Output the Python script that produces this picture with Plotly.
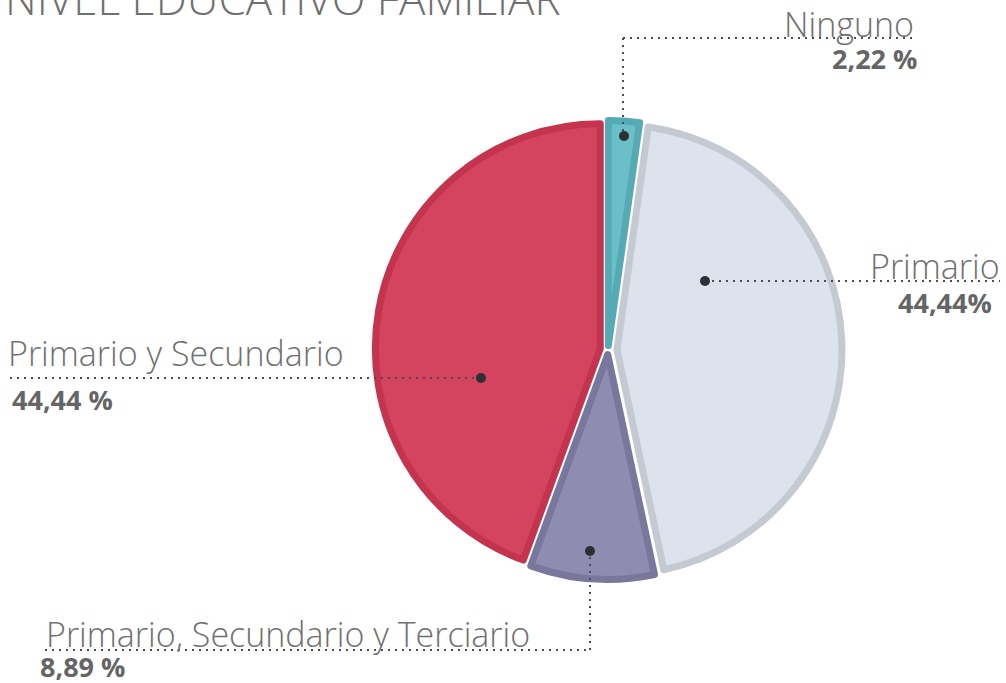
import plotly.graph_objects as go

W, H = 1006, 683

# ---- data ----
categories = ["Ninguno", "Primario", "Primario, Secundario y Terciario", "Primario y Secundario"]
values = [2.22, 44.44, 8.89, 44.44]
value_labels = ["2,22 %", "44,44%", "8,89 %", "44,44 %"]
title_text = "NIVEL EDUCATIVO FAMILIAR"

# ---- styles ----
fill_colors = ["#6bbfc8", "#dce3ec", "#8e8cb0", "#d5445f"]
line_colors = ["#55aab4", "#c5cad2", "#7a779d", "#c4344f"]
pulls = [0.02, 0.04, 0.02, 0.035]

fig = go.Figure()

fig.add_trace(go.Pie(
    labels=categories,
    values=values,
    sort=False,
    direction="clockwise",
    rotation=0,
    pull=pulls,
    marker=dict(colors=fill_colors, line=dict(color=line_colors, width=7)),
    textinfo="none",
    hoverinfo="label+percent",
    showlegend=False,
    domain=dict(x=[0.3718, 0.837], y=[0.145, 0.830]),
))

# invisible overlay axes in pixel units for callouts
fig.add_trace(go.Scatter(x=[0, W], y=[0, H], mode="markers",
                         marker=dict(opacity=0), hoverinfo="skip", showlegend=False))

LINE_C = "#4a4d52"
DOT_C = "#2c2f34"
TXT_C = "#707070"
VAL_C = "#656565"

shapes = []
def dline(x0, y0, x1, y1):
    shapes.append(dict(type="line", xref="x", yref="y", x0=x0, y0=y0, x1=x1, y1=y1,
                       line=dict(color=LINE_C, width=2, dash="2px,5px"), layer="above"))
def dot(x, y, r=5):
    shapes.append(dict(type="circle", xref="x", yref="y", x0=x - r, y0=y - r, x1=x + r, y1=y + r,
                       fillcolor=DOT_C, line=dict(width=0), layer="above"))

# callout geometry (pixels)
dline(623, 38, 915, 38); dline(623, 38, 623, 134); dot(624, 136)
dline(705, 281, 1000, 281); dot(705, 281)
dline(10, 378, 481, 378); dot(481, 378)
dline(45, 650, 590, 650); dline(590, 650, 590, 553); dot(590, 551)

label_font = dict(family="Open Sans", size=34, color=TXT_C, weight=300)
value_font = dict(family="Open Sans", size=27, color=VAL_C, weight="bold")

ann = []
def text(t, x, y, anchor, font):
    ann.append(dict(text=t, x=x, y=y, xref="x", yref="y", xanchor=anchor, yanchor="middle",
                    showarrow=False, font=font))

text(categories[0], 916, 24, "right", label_font)
text(value_labels[0], 919, 58, "right", value_font)
text(categories[1], 1002, 266, "right", label_font)
text(value_labels[1], 994, 302, "right", value_font)
text(categories[3], 6, 353, "left", label_font)
text(value_labels[3], 10, 399, "left", value_font)
text(categories[2], 44, 634, "left", label_font)
text(value_labels[2], 38, 666, "left", value_font)

# title (clipped at the top as in the reference)
ann.append(dict(text=title_text, x=3 / W, y=1 + 2 / H, xref="paper", yref="paper",
                xanchor="left", yanchor="middle", showarrow=False,
                font=dict(family="Open Sans", size=44, color="#6f6f6f", weight=300)))

fig.update_layout(
    width=W, height=H,
    margin=dict(l=0, r=0, t=0, b=0),
    paper_bgcolor="white", plot_bgcolor="rgba(0,0,0,0)",
    xaxis=dict(range=[0, W], visible=False, fixedrange=True),
    yaxis=dict(range=[H, 0], visible=False, fixedrange=True),
    shapes=shapes, annotations=ann,
)

fig.write_html("out.html", config={"displayModeBar": False},
               post_script="document.body.style.margin='0';")
